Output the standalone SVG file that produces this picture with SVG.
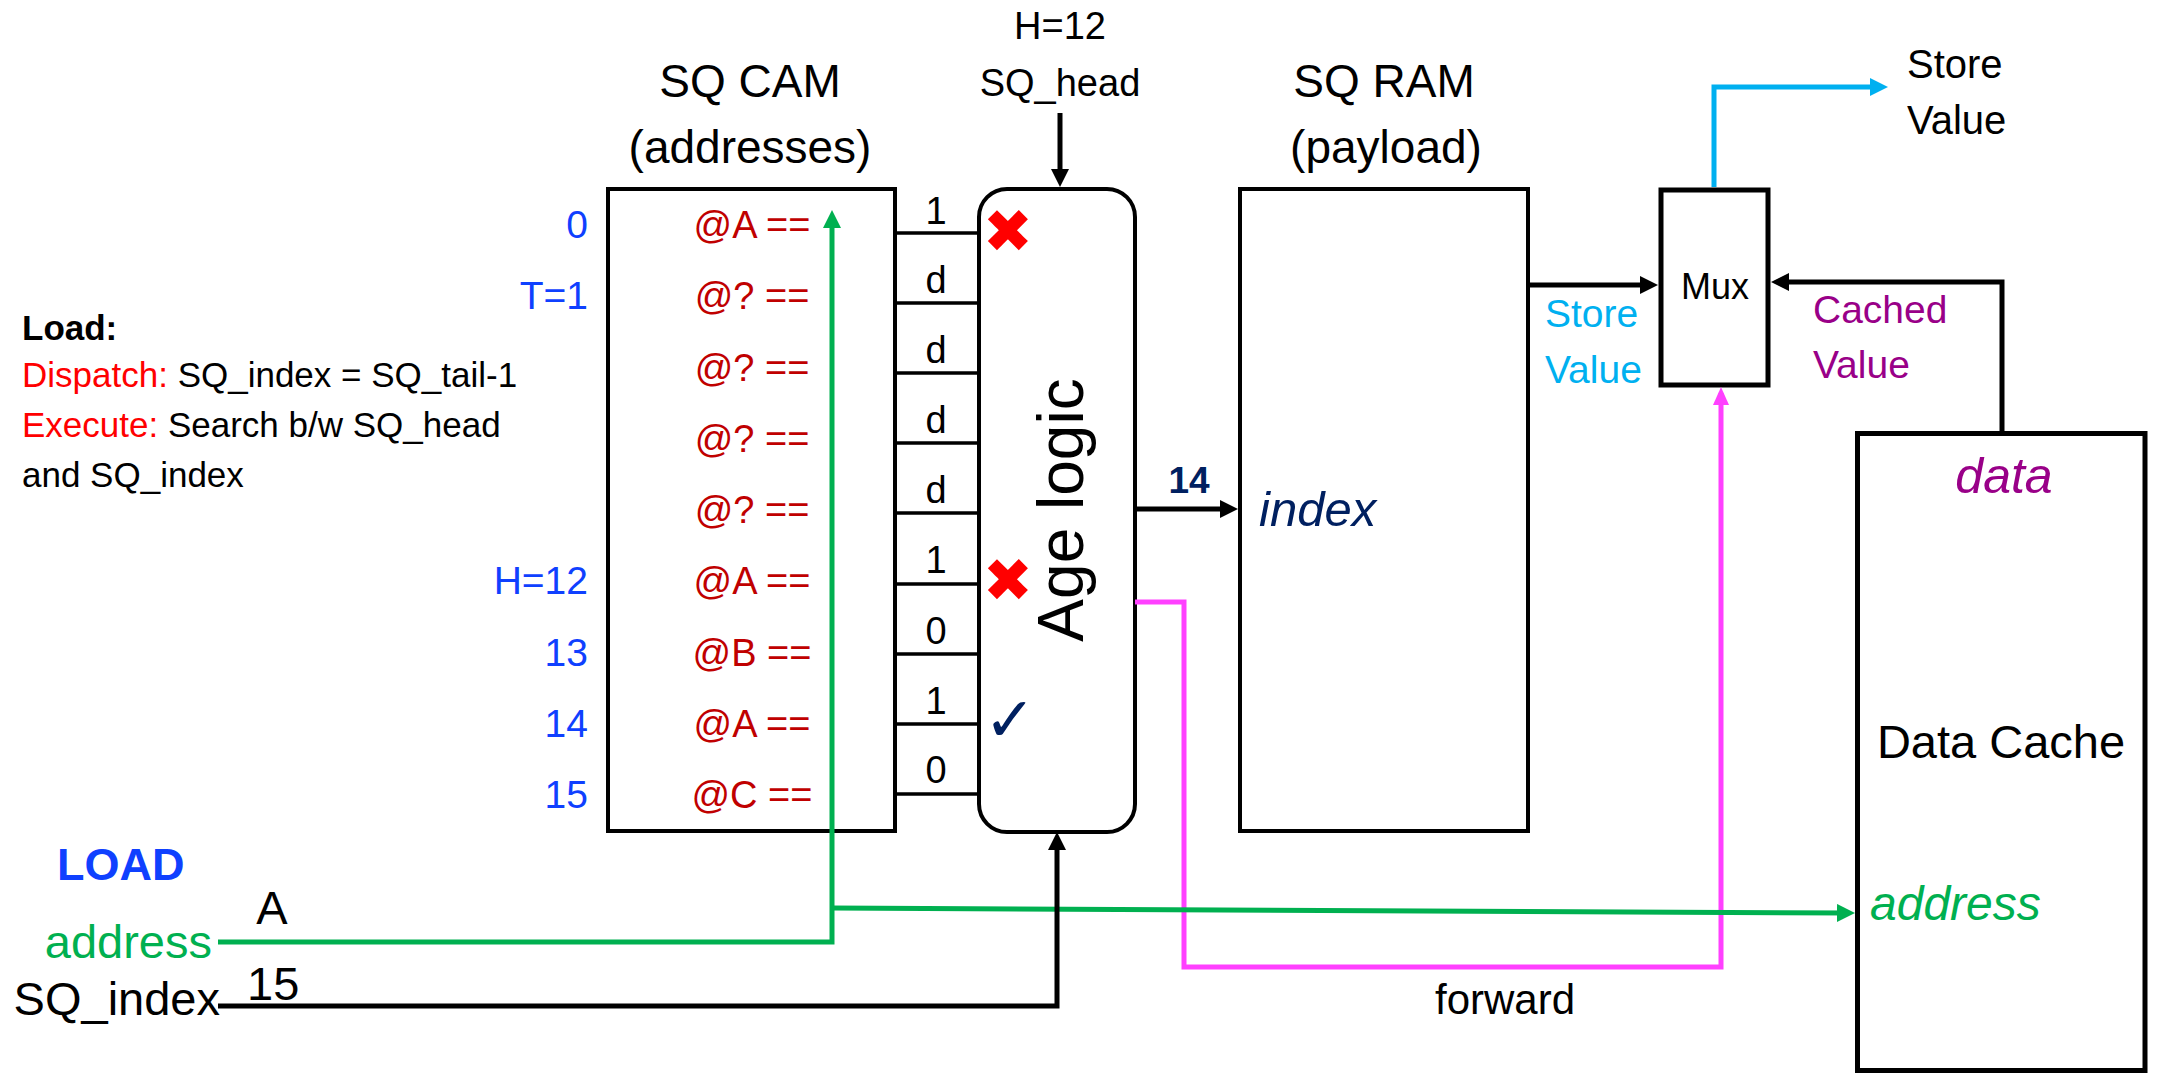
<svg xmlns="http://www.w3.org/2000/svg" width="2157" height="1076" viewBox="0 0 2157 1076">
<defs>
<style>
text{font-family:"Liberation Sans",Arial,sans-serif;fill:#000}
.box{fill:#fff;stroke:#000;stroke-width:4}
.thick{stroke-width:5}
.bit{stroke:#000;stroke-width:3.5}
.lbl{font-size:39px;fill:#0F40FF;text-anchor:end}
.cam{font-size:38px;fill:#C00000;text-anchor:middle}
.bv{font-size:38px;text-anchor:middle}
.t46{font-size:46px;text-anchor:middle}
.ln{font-size:35px}
.mid{text-anchor:middle}
.c{fill:none;stroke-width:5}
.sym{font-family:"DejaVu Sans",sans-serif;text-anchor:middle}
</style>
<marker id="ak" viewBox="0 0 18 18" refX="12" refY="9" markerWidth="18" markerHeight="18" markerUnits="userSpaceOnUse" orient="auto"><path d="M0,0 L18,9 L0,18 z" fill="#000"/></marker>
<marker id="ab" viewBox="0 0 18 18" refX="12" refY="9" markerWidth="18" markerHeight="18" markerUnits="userSpaceOnUse" orient="auto"><path d="M0,0 L18,9 L0,18 z" fill="#00B0F0"/></marker>
<marker id="ap" viewBox="0 0 18 18" refX="12" refY="9" markerWidth="18" markerHeight="18" markerUnits="userSpaceOnUse" orient="auto"><path d="M0,1 L18,9 L0,17 z" fill="#FF40FF"/></marker>
<marker id="ag" viewBox="0 0 18 18" refX="12" refY="9" markerWidth="18" markerHeight="18" markerUnits="userSpaceOnUse" orient="auto"><path d="M0,0 L18,9 L0,18 z" fill="#00B050"/></marker>
</defs>
<rect width="2157" height="1076" fill="#fff"/>

<g id="load-notes">
<text x="22" y="340" style="font-size:35px;font-weight:bold">Load:</text>
<text x="22" y="387" class="ln"><tspan fill="#FF0000">Dispatch:</tspan> SQ_index = SQ_tail-1</text>
<text x="22" y="437" class="ln"><tspan fill="#FF0000">Execute:</tspan> Search b/w SQ_head</text>
<text x="22" y="487" class="ln">and SQ_index</text>
</g>

<g id="load-inputs">
<text x="57" y="880" style="font-size:45px;font-weight:bold;fill:#0F40FF">LOAD</text>
<text x="272" y="924" class="mid" style="font-size:47px">A</text>
<text x="212" y="958" style="font-size:47px;fill:#00B050;text-anchor:end">address</text>
<text x="247" y="1000" style="font-size:47px">15</text>
<text x="220" y="1015" style="font-size:47px;text-anchor:end">SQ_index</text>
</g>

<g id="sq-cam">
<text x="750" y="97" class="t46">SQ CAM</text>
<text x="750" y="163" class="t46">(addresses)</text>
<rect class="box" x="608" y="189" width="287" height="642"/>
<text x="588" y="238" class="lbl">0</text>
<text x="588" y="309" class="lbl">T=1</text>
<text x="588" y="594" class="lbl">H=12</text>
<text x="588" y="666" class="lbl">13</text>
<text x="588" y="737" class="lbl">14</text>
<text x="588" y="808" class="lbl">15</text>
<text x="752" y="238" class="cam">@A ==</text>
<text x="752" y="309" class="cam">@? ==</text>
<text x="752" y="381" class="cam">@? ==</text>
<text x="752" y="452" class="cam">@? ==</text>
<text x="752" y="523" class="cam">@? ==</text>
<text x="752" y="594" class="cam">@A ==</text>
<text x="752" y="666" class="cam">@B ==</text>
<text x="752" y="737" class="cam">@A ==</text>
<text x="752" y="808" class="cam">@C ==</text>
</g>

<g id="match-bits">
<line class="bit" x1="895" y1="233" x2="979" y2="233"/>
<line class="bit" x1="895" y1="303" x2="979" y2="303"/>
<line class="bit" x1="895" y1="373" x2="979" y2="373"/>
<line class="bit" x1="895" y1="443" x2="979" y2="443"/>
<line class="bit" x1="895" y1="513" x2="979" y2="513"/>
<line class="bit" x1="895" y1="584" x2="979" y2="584"/>
<line class="bit" x1="895" y1="654" x2="979" y2="654"/>
<line class="bit" x1="895" y1="724" x2="979" y2="724"/>
<line class="bit" x1="895" y1="794" x2="979" y2="794"/>
<text x="936" y="224" class="bv">1</text>
<text x="936" y="293" class="bv">d</text>
<text x="936" y="363" class="bv">d</text>
<text x="936" y="433" class="bv">d</text>
<text x="936" y="503" class="bv">d</text>
<text x="936" y="573" class="bv">1</text>
<text x="936" y="644" class="bv">0</text>
<text x="936" y="714" class="bv">1</text>
<text x="936" y="783" class="bv">0</text>
</g>

<g id="age-logic">
<rect class="box" x="979" y="189" width="156" height="643" rx="28"/>
<text transform="translate(1083,510) rotate(-90)" class="mid" style="font-size:64px">Age logic</text>
<text x="1008" y="252" class="sym" style="font-size:60px;fill:#FF0000">✖</text>
<text x="1008" y="601" class="sym" style="font-size:60px;fill:#FF0000">✖</text>
<text x="1010" y="741" class="sym" style="font-size:62px;fill:#002060">✓</text>
</g>

<g id="sq-head">
<text x="1060" y="39" class="mid" style="font-size:38px">H=12</text>
<text x="1060" y="96" class="mid" style="font-size:38px">SQ_head</text>
</g>

<g id="sq-ram">
<text x="1384" y="97" class="t46">SQ RAM</text>
<text x="1386" y="163" class="t46">(payload)</text>
<rect class="box" x="1240" y="189" width="288" height="642"/>
<text x="1259" y="526" style="font-size:49px;font-style:italic;fill:#002060">index</text>
</g>

<g id="mux">
<rect class="box thick" x="1661" y="190" width="107" height="195"/>
<text x="1715" y="299" class="mid" style="font-size:36px">Mux</text>
</g>

<g id="data-cache">
<rect class="box thick" x="1857.5" y="433.5" width="287.5" height="637"/>
<text x="2004" y="493" class="mid" style="font-size:50px;font-style:italic;fill:#990088">data</text>
<text x="2001" y="758" class="mid" style="font-size:47px">Data Cache</text>
<text x="1870" y="920" style="font-size:48px;font-style:italic;fill:#00B050">address</text>
</g>

<g id="connectors">
<path class="c" stroke="#000" d="M1060,113 V181" marker-end="url(#ak)"/>
<path class="c" stroke="#000" d="M1135,509 H1232" marker-end="url(#ak)"/>
<path class="c" stroke="#000" d="M1528,285 H1652" marker-end="url(#ak)"/>
<path class="c" stroke="#000" d="M2002,433 V282 H1777" marker-end="url(#ak)"/>
<path class="c" stroke="#00B0F0" d="M1714,187 V87 H1882" marker-end="url(#ab)"/>
<path class="c" stroke="#FF40FF" d="M1135,602 H1184 V967 H1721 V393" marker-end="url(#ap)"/>
<path class="c" stroke="#00B050" d="M218,942 H832 V216" marker-end="url(#ag)"/>
<path class="c" stroke="#00B050" d="M832,908 L1849,913" marker-end="url(#ag)"/>
<path class="c" stroke="#000" d="M218,1006 H1057 V838" marker-end="url(#ak)"/>
</g>

<g id="labels">
<text x="1189" y="493" class="mid" style="font-size:37px;font-weight:bold;fill:#002060">14</text>
<text x="1545" y="327" style="font-size:39px;fill:#00B0F0">Store</text>
<text x="1545" y="383" style="font-size:39px;fill:#00B0F0">Value</text>
<text x="1813" y="323" style="font-size:39px;fill:#990088">Cached</text>
<text x="1813" y="378" style="font-size:39px;fill:#990088">Value</text>
<text x="1907" y="78" style="font-size:40px">Store</text>
<text x="1907" y="134" style="font-size:40px">Value</text>
<text x="1505" y="1014" class="mid" style="font-size:42px">forward</text>
</g>
</svg>
